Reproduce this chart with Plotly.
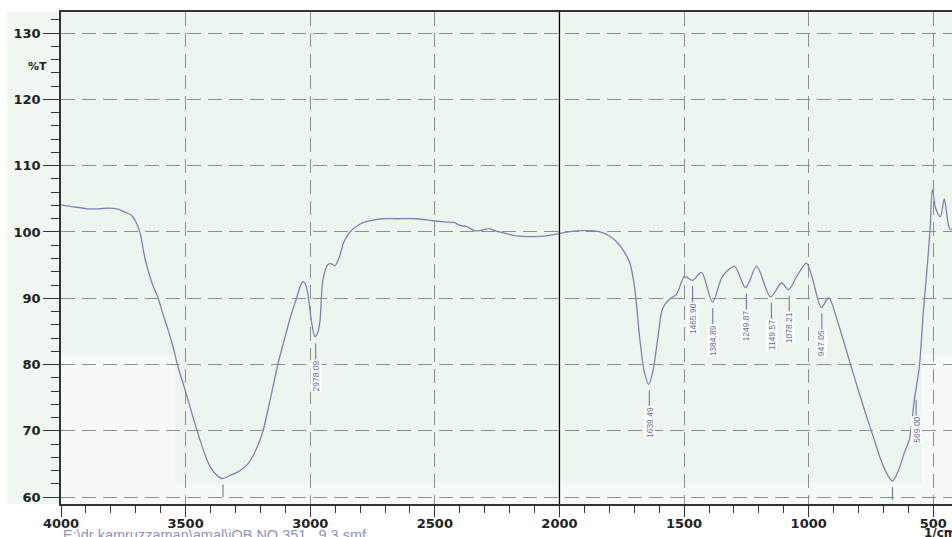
import plotly.graph_objects as go

# ---------------- data ----------------
wavenumber = [4000, 3950, 3892, 3850, 3812, 3775, 3743, 3720, 3703, 3683, 3663, 3635, 3611, 3590,
              3571, 3550, 3531, 3500, 3470, 3443, 3420, 3402, 3375, 3354, 3320, 3290, 3270, 3250,
              3230, 3210, 3190, 3160, 3130, 3105, 3082, 3055, 3040, 3030, 3020, 3010, 2995, 2981,
              2970, 2961, 2949, 2929, 2915, 2901, 2885, 2865, 2841, 2800, 2760, 2709, 2650, 2573,
              2508, 2450, 2420, 2400, 2372, 2340, 2320, 2300, 2280, 2260, 2240, 2171, 2107, 2039,
              1998, 1950, 1907, 1870, 1838, 1800, 1770, 1740, 1718, 1698, 1678, 1660, 1642, 1625,
              1606, 1586, 1558, 1530, 1498, 1466, 1430, 1386, 1346, 1298, 1253, 1209, 1153, 1109,
              1081, 1045, 1009, 985, 949, 920, 880, 836, 800, 768, 740, 716, 690, 664, 640, 616,
              596, 576, 556, 540, 525, 513, 504, 490, 472, 456, 448, 436, 425]
transmittance = [104.1, 103.8, 103.5, 103.5, 103.6, 103.5, 103.0, 102.6, 101.8, 99.9, 96.0, 92.3, 90.1, 87.5,
                 85.3, 82.6, 79.7, 75.9, 72.0, 68.7, 66.2, 64.6, 63.3, 62.8, 63.3, 63.8, 64.3, 65.0,
                 66.2, 67.8, 69.9, 74.8, 80.0, 83.6, 86.8, 90.0, 91.8, 92.5, 92.2, 90.8, 86.5, 84.2,
                 84.8, 86.5, 92.8, 95.1, 95.2, 94.9, 96.0, 98.5, 100.0, 101.2, 101.7, 102.0, 102.0, 102.0,
                 101.7, 101.5, 101.4, 101.0, 100.8, 100.2, 100.2, 100.4, 100.5, 100.2, 100.0, 99.4, 99.3, 99.5,
                 99.8, 100.1, 100.2, 100.2, 100.0, 99.4, 98.5, 97.0, 95.4, 91.5, 84.0, 79.0, 77.0, 79.0,
                 83.8, 88.5, 89.9, 90.6, 93.3, 92.7, 93.9, 89.4, 93.3, 94.8, 91.6, 94.8, 90.2, 92.3,
                 91.3, 93.5, 95.3, 93.0, 88.6, 90.1, 86.0, 80.5, 76.0, 72.2, 69.0, 66.2, 63.8, 62.4, 64.0, 66.7,
                 68.7, 74.7, 79.7, 88.0, 94.5, 100.3, 106.4, 103.5, 102.3, 105.0, 103.3, 100.6, 100.3]

peak_labels = ["2978.09", "1639.49", "1465.90", "1384.89", "1249.87", "1149.57", "1078.21", "947.05", "569.00"]
peak_wn = [2978.09, 1639.49, 1465.90, 1384.89, 1249.87, 1149.57, 1078.21, 947.05, 569.00]
peak_T = [84.1, 77.0, 92.7, 89.4, 91.6, 90.2, 91.3, 88.6, 75.6]

unlabeled_wn = [3350, 664]
unlabeled_T = [62.8, 62.4]

x_ticks = [4000, 3500, 3000, 2500, 2000, 1500, 1000, 500]
y_ticks = [60, 70, 80, 90, 100, 110, 120, 130]
divider_wn = 2000
file_caption = r"E:\dr kamruzzaman\amal\iOB NO 351" + "\u00a0\u00a0\u00a0" + "9.3.smf"

# ---------------- style ----------------
LINE_C = "#7d82b6"
LABEL_C = "#666ba3"
GRID_C = "#8e8e8e"
PLOT_BG = "#edf6ee"
LIGHT_BG = "#f5faf5"
W, H = 952, 537
ML, MT, MB, MR = 61, 12, 33, 0
PW, PH = W - ML - MR, H - MT - MB

fig = go.Figure()
fig.add_trace(go.Scatter(x=wavenumber, y=transmittance, mode="lines",
                         line=dict(color=LINE_C, width=1.3, shape="spline", smoothing=0.8),
                         hoverinfo="x+y", showlegend=False))

shapes = []
for (x0, x1, y0, y1) in [(0, 114 / PW, 0, 149 / PH), (114 / PW, 861 / PW, 0, 21 / PH), (861 / PW, 1, 0, 149 / PH)]:
    shapes.append(dict(type="rect", xref="paper", yref="paper", x0=x0, x1=x1, y0=y0, y1=y1,
                       fillcolor=LIGHT_BG, line=dict(width=0), layer="below"))
shapes.append(dict(type="rect", xref="paper", yref="paper", x0=-54 / PW, x1=0, y0=0, y1=1,
                   fillcolor="#f1f7f1", line=dict(width=0), layer="below"))
shapes.append(dict(type="line", xref="x", yref="paper", x0=divider_wn, x1=divider_wn, y0=0, y1=1,
                   line=dict(color="black", width=1.3)))
for wn, t in zip(peak_wn, peak_T):
    shapes.append(dict(type="line", xref="x", yref="y", x0=wn, x1=wn, y0=t - 0.9, y1=t - 3.3,
                       line=dict(color=LABEL_C, width=1)))
for wn, t in zip(unlabeled_wn, unlabeled_T):
    shapes.append(dict(type="line", xref="x", yref="y", x0=wn, x1=wn, y0=t - 0.9, y1=t - 2.8,
                       line=dict(color=LABEL_C, width=1)))

annotations = []
for lab, wn, t in zip(peak_labels, peak_wn, peak_T):
    annotations.append(dict(x=wn, y=t - 3.3, xref="x", yref="y", text=lab, showarrow=False,
                            textangle=-90, xanchor="center", yanchor="top", bgcolor="white",
                            borderpad=0,
                            font=dict(family="Liberation Sans Narrow, Liberation Sans, Arial", size=8.5, color=LABEL_C)))
annotations.append(dict(x=0, y=125, xref="paper", yref="y", text="%T", showarrow=False,
                        xanchor="right", yanchor="middle", xshift=-12,
                        font=dict(family="DejaVu Sans", size=11, color="#222", weight="bold")))
annotations.append(dict(x=0, y=0, xref="paper", yref="paper", text=file_caption, showarrow=False,
                        xanchor="left", yanchor="top", yshift=-21,
                        font=dict(family="Liberation Sans, Arial", size=14.5, color="#8d91c6")))
annotations.append(dict(x=1, y=0, xref="paper", yref="paper", text="1/cm", showarrow=False,
                        xanchor="left", yanchor="top", xshift=-30, yshift=-20,
                        font=dict(family="DejaVu Sans", size=12, color="#222", weight="bold")))

tickfont = dict(family="DejaVu Sans", size=13, color="#222", weight="bold")
fig.update_layout(
    width=W, height=H, margin=dict(l=ML, r=MR, t=MT, b=MB, autoexpand=False),
    paper_bgcolor="white", plot_bgcolor=PLOT_BG,
    shapes=shapes, annotations=annotations,
    xaxis=dict(range=[4000, 425], tickmode="array", tickvals=x_ticks, ticktext=[str(v) for v in x_ticks],
               ticks="outside", ticklen=11, tickwidth=1, tickcolor="#333", ticklabelstandoff=-4,
               minor=dict(dtick=100, tick0=0, ticks="outside", ticklen=7, tickwidth=1, tickcolor="#333",
                          showgrid=False),
               showgrid=True, gridcolor=GRID_C, gridwidth=1, griddash="14px,7px",
               showline=True, linecolor="#333", linewidth=1.5, mirror=True,
               tickfont=tickfont, zeroline=False, automargin=False),
    yaxis=dict(range=[58.95, 133.2], tickmode="array", tickvals=y_ticks, ticktext=[str(v) for v in y_ticks],
               ticks="outside", ticklen=16, tickwidth=1, tickcolor="#333",
               minor=dict(dtick=2, tick0=0, ticks="outside", ticklen=8, tickwidth=1, tickcolor="#333",
                          showgrid=False),
               showgrid=True, gridcolor=GRID_C, gridwidth=1, griddash="14px,7px",
               showline=True, linecolor="#333", linewidth=1.5,
               tickfont=tickfont, zeroline=False, automargin=False),
)
fig.write_html("out.html", config={"displayModeBar": False},
               post_script="document.body.style.margin='0';document.body.style.overflow='hidden';")
